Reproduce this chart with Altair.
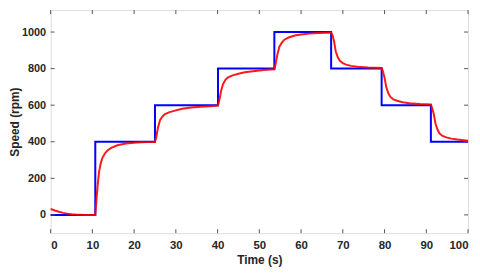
import altair as alt
import pandas as pd

# Reference (blue) step signal
ref_t = [0, 10.7, 10.7, 25, 25, 40.1, 40.1, 53.6, 53.6, 67.2, 67.2, 79.3, 79.3, 91.1, 91.1, 100]
ref_v = [0, 0, 400, 400, 600, 600, 800, 800, 1000, 1000, 800, 800, 600, 600, 400, 400]

# Measured (red) response
resp_t = [0, 1, 2, 3, 4, 5, 6, 8, 10.7,
          11.0, 11.3, 11.6, 12.0, 12.4, 13.0, 13.6, 14.5, 16, 18, 20.7, 23, 25,
          25.3, 25.7, 26.2, 26.8, 27.4, 28.5, 29.8, 31.5, 33.7, 36, 39, 40.1,
          40.4, 40.8, 41.3, 41.9, 42.5, 43.6, 45, 46.5, 49, 51, 53.6,
          53.9, 54.3, 54.8, 55.4, 56, 57, 58.5, 60, 63, 67.2,
          67.5, 67.9, 68.3, 68.8, 69.3, 70, 70.8, 72, 73.5, 76, 79.3,
          79.6, 80, 80.4, 80.9, 81.4, 82.1, 83, 84.3, 86, 88.5, 91.1,
          91.4, 91.8, 92.2, 92.7, 93.2, 93.9, 94.8, 96, 97.5, 100]
resp_v = [32, 24, 17, 11, 7, 4, 2, 0, 0,
          90, 170, 235, 282, 312, 336, 352, 366, 381, 390, 396, 398, 399,
          425, 475, 518, 538, 551, 562, 570, 580, 587, 592, 596, 598,
          625, 675, 715, 740, 752, 763, 772, 780, 787, 792, 796,
          825, 875, 920, 942, 958, 970, 981, 987, 994, 998,
          985, 950, 895, 862, 843, 830, 822, 815, 810, 806, 803,
          785, 750, 700, 665, 645, 632, 624, 616, 610, 606, 604,
          585, 550, 500, 465, 445, 432, 424, 417, 412, 406]

x_ticks = [0, 10, 20, 30, 40, 50, 60, 70, 80, 90, 100]
y_ticks = [0, 200, 400, 600, 800, 1000]

W, H = 421, 225
FONT = "Liberation Sans"
TICK_COLOR = "#555555"

ref_df = pd.DataFrame({"t": ref_t, "v": ref_v, "o": list(range(len(ref_t)))})
resp_df = pd.DataFrame({"t": resp_t, "v": resp_v, "o": list(range(len(resp_t)))})
xt_df = pd.DataFrame({"tx": x_ticks})
yt_df = pd.DataFrame({"ty": y_ticks})

xscale = alt.Scale(domain=[0, 100], nice=False, zero=False)
yscale = alt.Scale(domain=[-100, 1120], nice=False, zero=False)

xaxis = alt.Axis(values=x_ticks, format="d", tickSize=0, domain=False, grid=False, labelPadding=6,
                 labelFont=FONT, labelFontSize=11.5, labelFontWeight="bold", labelColor="#262626",
                 title="Time (s)", titleFont=FONT, titleFontSize=12, titleFontWeight="bold",
                 titleColor="#262626", titlePadding=4)
yaxis = alt.Axis(values=y_ticks, format="d", tickSize=0, domain=False, grid=False, labelPadding=5,
                 labelFont=FONT, labelFontSize=11, labelFontWeight="bold", labelColor="#262626",
                 title="Speed (rpm)", titleFont=FONT, titleFontSize=12, titleFontWeight="bold",
                 titleColor="#262626", titlePadding=0)

ref_line = alt.Chart(ref_df).mark_line(color="#0000FF", strokeWidth=2).encode(
    x=alt.X("t:Q", scale=xscale, axis=xaxis),
    y=alt.Y("v:Q", scale=yscale, axis=yaxis),
    order="o:Q",
)

resp_line = alt.Chart(resp_df).mark_line(color="#FF0000", strokeWidth=2, opacity=0.9).encode(
    x=alt.X("t:Q", scale=xscale),
    y=alt.Y("v:Q", scale=yscale),
    order="o:Q",
)

tick_len = 4
xb = alt.Chart(xt_df).mark_rule(color=TICK_COLOR, strokeWidth=1).encode(
    x=alt.X("tx:Q", scale=xscale), y=alt.value(H), y2=alt.value(H - tick_len))
xtp = alt.Chart(xt_df).mark_rule(color=TICK_COLOR, strokeWidth=1).encode(
    x=alt.X("tx:Q", scale=xscale), y=alt.value(0), y2=alt.value(tick_len))
yl = alt.Chart(yt_df).mark_rule(color=TICK_COLOR, strokeWidth=1).encode(
    y=alt.Y("ty:Q", scale=yscale), x=alt.value(0), x2=alt.value(tick_len))
yr = alt.Chart(yt_df).mark_rule(color=TICK_COLOR, strokeWidth=1).encode(
    y=alt.Y("ty:Q", scale=yscale), x=alt.value(W), x2=alt.value(W - tick_len))

chart = alt.layer(ref_line, resp_line, xb, xtp, yl, yr).properties(
    width=W, height=H, padding={"left": 0, "top": 0, "right": 0, "bottom": 0}
).configure_view(stroke="#8c8c8c", strokeWidth=1).configure(background="white")

chart.save("out.html", embed_options={"renderer": "svg", "actions": False})
